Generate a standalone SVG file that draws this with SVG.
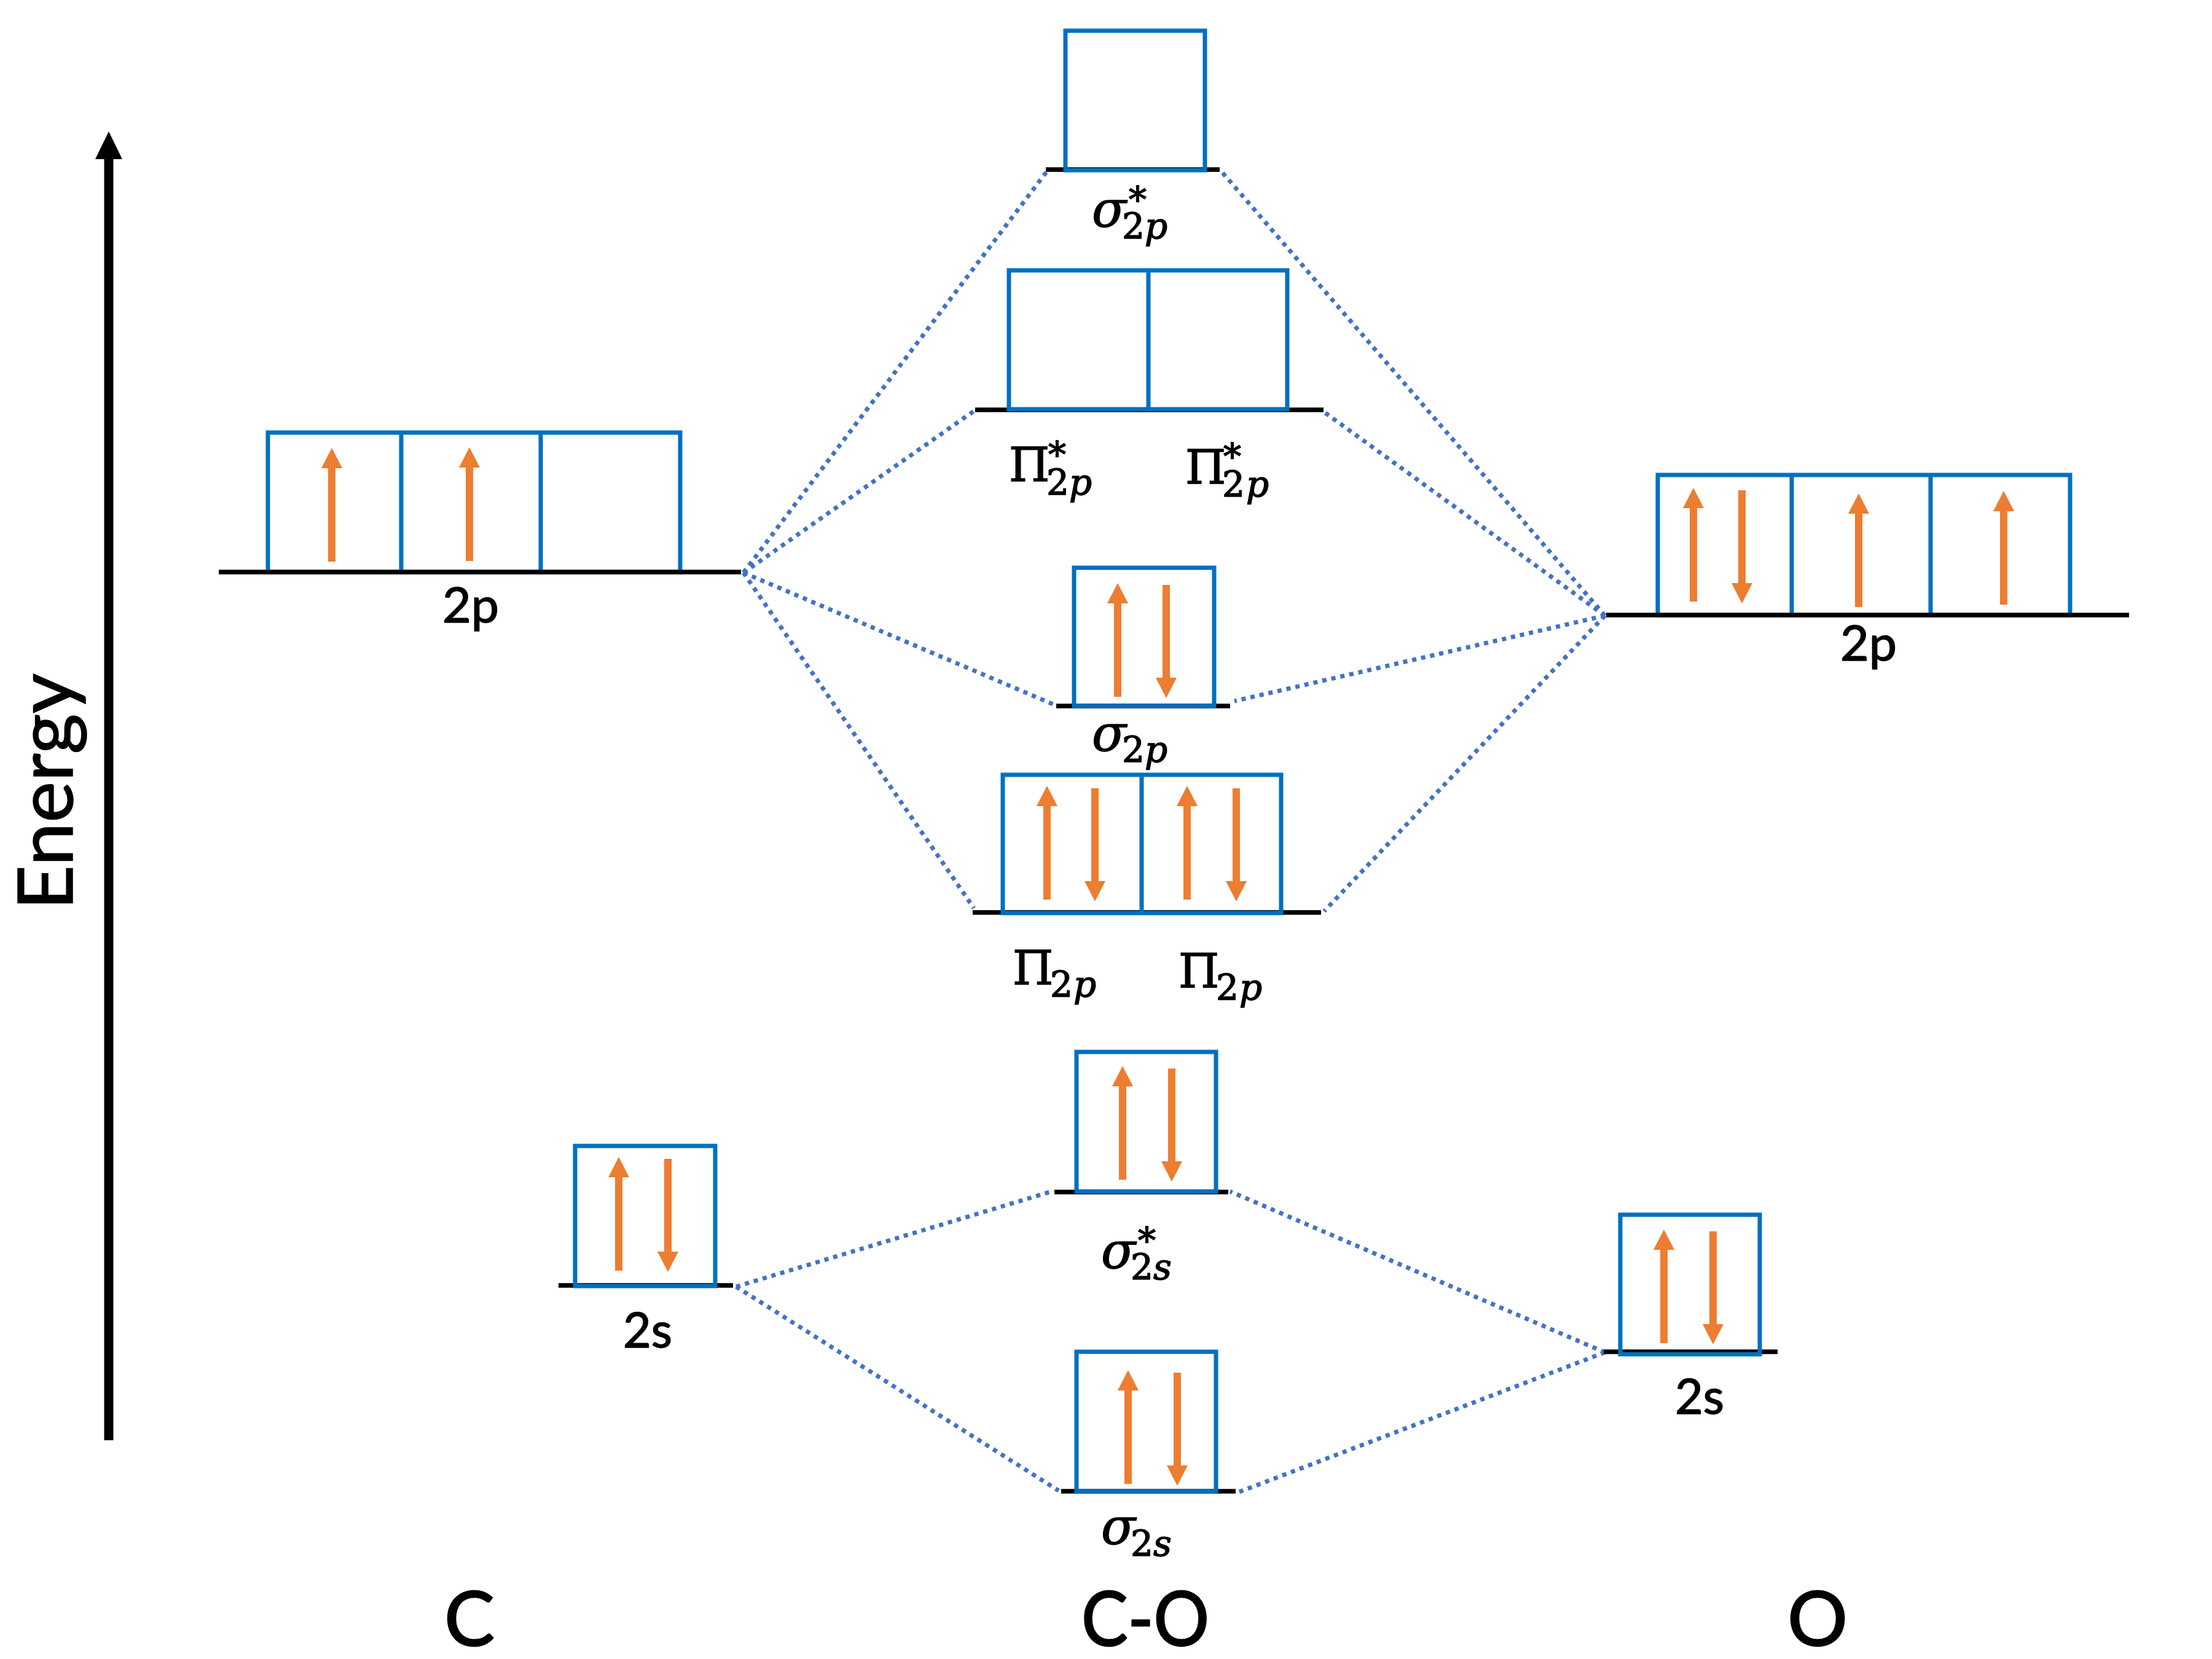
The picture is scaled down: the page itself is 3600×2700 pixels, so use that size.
<svg xmlns="http://www.w3.org/2000/svg" width="3600" height="2700" viewBox="0 0 3600 2700">
<style>
.box{fill:none;stroke:#0070C0;stroke-width:7}
.level{stroke:#000;stroke-width:7.500;fill:none}
.dot{stroke:#4472C4;stroke-width:7;stroke-dasharray:7 8;fill:none}
.e{fill:#ED7D31}
.t{font-family:Lato,"Liberation Sans",sans-serif;fill:#000;stroke:#000;stroke-width:1.500}
.s{font-size:80px}
.b{font-size:122px;stroke-width:2.500}
.m{font-family:"DejaVu Serif",serif;fill:#000;stroke:#000;stroke-width:1.500}
.g{font-size:82px}
.pi{font-size:76px}
.i{font-style:italic}
.u{font-size:58px}
</style>
<defs>
<path id="up" d="M0 0L17 33H6V185H-6V33H-17Z"/>
<path id="dn" d="M0 184L17 151H6V0H-6V151H-17Z"/>
</defs>
<rect width="3600" height="2700" fill="#fff"/>
<g id="connectors">
<path class="dot" d="M1210 932L1703 280"/>
<path class="dot" d="M1210 932L1585 669"/>
<path class="dot" d="M1210 932L1723 1150"/>
<path class="dot" d="M1210 932L1585 1478"/>
<path class="dot" d="M2612 1002L1987 278"/>
<path class="dot" d="M2612 1002L2150 667"/>
<path class="dot" d="M2612 1002L2009 1141"/>
<path class="dot" d="M2612 1002L2155 1483"/>
<path class="dot" d="M1198 2094L1715 1938"/>
<path class="dot" d="M1198 2094L1723 2426"/>
<path class="dot" d="M2612 2201L2002 1939"/>
<path class="dot" d="M2612 2201L2017 2428"/>
</g>
<g id="energy-axis">
<path d="M177 214L199 259H184.500V2344H169.500V259H155Z"/>
<text class="t" transform="translate(118 1481) rotate(-90)" font-size="125" textLength="385" lengthAdjust="spacingAndGlyphs">Energy</text>
</g>
<g id="c-2p">
<rect class="box" x="436" y="704" width="671" height="227"/>
<path class="box" d="M653 704V931M880 704V931"/>
<path class="level" d="M356 931H1206"/>
<use class="e" href="#up" x="540" y="729"/>
<use class="e" href="#up" x="764" y="728"/>
<text class="t s" x="766" y="1013" text-anchor="middle" textLength="92" lengthAdjust="spacingAndGlyphs">2p</text>
</g>
<g id="c-2s">
<path class="level" d="M909 2092H1193"/>
<rect class="box" x="936" y="1865" width="228" height="228"/>
<use class="e" href="#up" x="1007" y="1883"/>
<use class="e" href="#dn" x="1087" y="1886"/>
<text class="t s" x="1054" y="2193" text-anchor="middle" textLength="80" lengthAdjust="spacingAndGlyphs">2s</text>
</g>
<g id="o-2p">
<rect class="box" x="2698" y="773" width="671" height="228"/>
<path class="box" d="M2916 773V1001M3142 773V1001"/>
<path class="level" d="M2614 1001H3465"/>
<use class="e" href="#up" x="2756" y="794"/>
<use class="e" href="#dn" x="2835" y="798"/>
<use class="e" href="#up" x="3025" y="803"/>
<use class="e" href="#up" x="3261" y="799"/>
<text class="t s" x="3041" y="1075" text-anchor="middle" textLength="92" lengthAdjust="spacingAndGlyphs">2p</text>
</g>
<g id="o-2s">
<path class="level" d="M2610 2200H2893"/>
<rect class="box" x="2637" y="1977" width="227" height="227"/>
<use class="e" href="#up" x="2708" y="2001"/>
<use class="e" href="#dn" x="2788" y="2004"/>
<text class="t s" x="2766" y="2301" text-anchor="middle" textLength="80" lengthAdjust="spacingAndGlyphs">2s</text>
</g>
<g id="sigma-star-2p">
<path class="level" d="M1702 276H1985"/>
<rect class="box" x="1734" y="50" width="227" height="227"/>
<text class="m"><tspan class="g i" x="1777" y="369">σ</tspan><tspan class="u" x="1837" y="345">*</tspan><tspan class="u" x="1826" y="388">2</tspan><tspan class="u i" x="1863" y="388">p</tspan></text>
</g>
<g id="pi-star-2p">
<path class="level" d="M1587 667H2154"/>
<rect class="box" x="1642" y="440" width="453" height="226"/>
<path class="box" d="M1869 440V666"/>
<text class="m"><tspan class="pi" x="1642" y="783">Π</tspan><tspan class="u" x="1706" y="760">*</tspan><tspan class="u" x="1703" y="805">2</tspan><tspan class="u i" x="1740" y="805">p</tspan></text>
<text class="m"><tspan class="pi" x="1929" y="787">Π</tspan><tspan class="u" x="1991" y="763">*</tspan><tspan class="u" x="1989" y="808">2</tspan><tspan class="u i" x="2028" y="808">p</tspan></text>
</g>
<g id="sigma-2p">
<path class="level" d="M1719 1149H2002"/>
<rect class="box" x="1748" y="924" width="228" height="225"/>
<use class="e" href="#up" x="1819" y="949"/>
<use class="e" href="#dn" x="1898" y="952"/>
<text class="m"><tspan class="g i" x="1777" y="1222">σ</tspan><tspan class="u" x="1826" y="1240">2</tspan><tspan class="u i" x="1863" y="1240">p</tspan></text>
</g>
<g id="pi-2p">
<path class="level" d="M1583 1485H2150"/>
<rect class="box" x="1632" y="1261" width="453" height="225"/>
<path class="box" d="M1858 1261V1486"/>
<use class="e" href="#up" x="1704" y="1279"/>
<use class="e" href="#dn" x="1782" y="1283"/>
<use class="e" href="#up" x="1932" y="1279"/>
<use class="e" href="#dn" x="2012" y="1283"/>
<text class="m"><tspan class="pi" x="1648" y="1602">Π</tspan><tspan class="u" x="1709" y="1622">2</tspan><tspan class="u i" x="1747" y="1622">p</tspan></text>
<text class="m"><tspan class="pi" x="1918" y="1607">Π</tspan><tspan class="u" x="1979" y="1627">2</tspan><tspan class="u i" x="2017" y="1627">p</tspan></text>
</g>
<g id="sigma-star-2s">
<path class="level" d="M1716 1940H1999"/>
<rect class="box" x="1752" y="1712" width="227" height="227"/>
<use class="e" href="#up" x="1827" y="1735"/>
<use class="e" href="#dn" x="1907" y="1739"/>
<text class="m"><tspan class="g i" x="1792" y="2064">σ</tspan><tspan class="u" x="1852" y="2039">*</tspan><tspan class="u" x="1840" y="2082">2</tspan><tspan class="u i" x="1877" y="2082">s</tspan></text>
</g>
<g id="sigma-2s">
<path class="level" d="M1727 2427H2011"/>
<rect class="box" x="1752" y="2200" width="227" height="227"/>
<use class="e" href="#up" x="1836" y="2230"/>
<use class="e" href="#dn" x="1916" y="2234"/>
<text class="m"><tspan class="g i" x="1792" y="2513">σ</tspan><tspan class="u" x="1840" y="2532">2</tspan><tspan class="u i" x="1877" y="2532">s</tspan></text>
</g>
<g id="titles">
<text class="t b" x="764" y="2678" text-anchor="middle">C</text>
<text class="t b" x="1864" y="2678" text-anchor="middle" textLength="208" lengthAdjust="spacingAndGlyphs">C-O</text>
<text class="t b" x="2958" y="2678" text-anchor="middle">O</text>
</g>
</svg>
